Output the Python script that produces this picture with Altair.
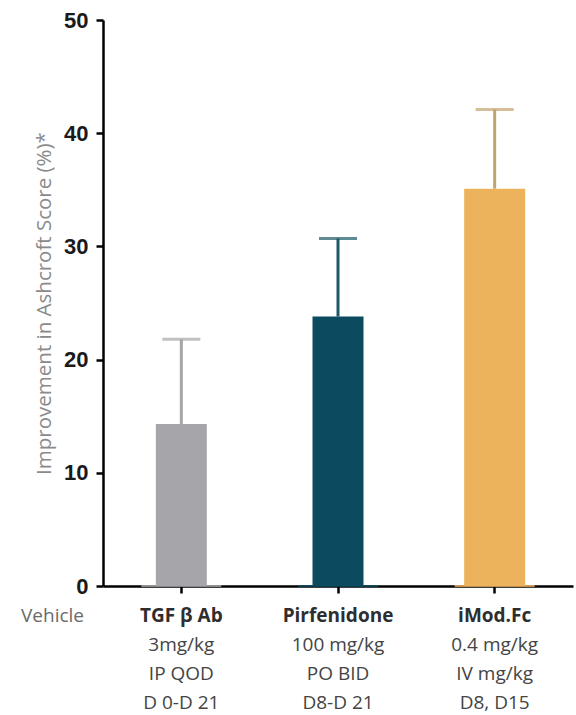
import altair as alt
import pandas as pd

# Treatment groups and their labels
treatments = ["TGF β Ab", "Pirfenidone", "iMod.Fc"]
doses = ["3mg/kg", "100 mg/kg", "0.4 mg/kg"]
routes = ["IP QOD", "PO BID", "IV mg/kg"]
schedules = ["D 0-D 21", "D8-D 21", "D8, D15"]

# Mean improvement and upper error (%)
means = [14.3, 23.8, 35.1]
upper = [21.8, 30.7, 42.1]

bar_colors = ["#a6a6aa", "#0b4a5f", "#edb25c"]
err_colors = ["#a6a6a8", "#1d5866", "#c4a26e"]
bar_widths = [51, 51, 61]

df = pd.DataFrame({
    "group": treatments,
    "mean": means,
    "upper": upper,
    "zero": [0, 0, 0],
    "bar_color": bar_colors,
    "err_color": err_colors,
    "bar_width": bar_widths,
    "details": [f"{d}\n{r}\n{s}" for d, r, s in zip(doses, routes, schedules)],
})

W, H = 470, 566

x = alt.X("group:N", sort=treatments,
          scale=alt.Scale(paddingInner=0, paddingOuter=0),
          axis=alt.Axis(title=None, labels=False, domainColor="#000000",
                        domainWidth=2.5, tickColor="#000000", tickWidth=2.5,
                        tickSize=7, grid=False))

y_axis = alt.Axis(title="Improvement in Ashcroft Score (%)*", values=[0, 10, 20, 30, 40, 50],
                  labelFont="Liberation Sans", labelFontWeight="bold", labelFontSize=22,
                  labelColor="#1a1a1a", labelPadding=8, tickSize=7, tickWidth=2.5,
                  tickColor="#000000", domainColor="#000000", domainWidth=2.5,
                  titleFont="Open Sans", titleFontWeight="normal", titleFontSize=20.5,
                  titleColor="#8a8a8a", titlePadding=9, grid=False)
y_scale = alt.Scale(domain=[0, 50], nice=False)

base = alt.Chart(df)

# Thin baseline stubs under each bar
stubs = base.mark_tick(size=80, thickness=2, opacity=0.8).encode(
    x=x, y=alt.Y("zero:Q", scale=y_scale, axis=y_axis),
    color=alt.Color("bar_color:N", scale=None),
)

bars = base.mark_bar().encode(
    x=x,
    y=alt.Y("mean:Q", scale=y_scale, axis=y_axis),
    color=alt.Color("bar_color:N", scale=None),
    size=alt.Size("bar_width:Q", scale=None),
)

err_line = base.mark_rule(strokeWidth=3).encode(
    x=x, y=alt.Y("mean:Q", scale=y_scale), y2="upper:Q",
    color=alt.Color("err_color:N", scale=None),
)

err_cap = base.mark_tick(size=38, thickness=3).encode(
    x=x, y=alt.Y("upper:Q", scale=y_scale),
    color=alt.Color("err_color:N", scale=None),
)

names = base.mark_text(font="Open Sans", fontWeight="bold", fontSize=19,
                       color="#2e2e2e", baseline="alphabetic", align="center").encode(
    x=x, y=alt.value(H + 36), text="group:N",
)

details = base.mark_text(font="Open Sans", fontSize=19, color="#444444",
                         baseline="alphabetic", align="center",
                         lineBreak="\n", lineHeight=29).encode(
    x=x, y=alt.value(H + 65), text="details:N",
)

vehicle = alt.Chart(pd.DataFrame({"label": ["Vehicle"]})).mark_text(
    font="Open Sans", fontSize=19, color="#6a6a6a", baseline="alphabetic", align="right"
).encode(x=alt.value(-19), y=alt.value(H + 36), text="label:N")

chart = alt.layer(stubs, bars, err_line, err_cap, names, details, vehicle).properties(
    width=W, height=H,
    autosize=alt.AutoSizeParams(type="none"),
    padding={"left": 103, "top": 20, "right": 3, "bottom": 129},
    background="white",
).configure_view(stroke=None)

chart.save("out.html", embed_options={"renderer": "svg", "actions": False})
